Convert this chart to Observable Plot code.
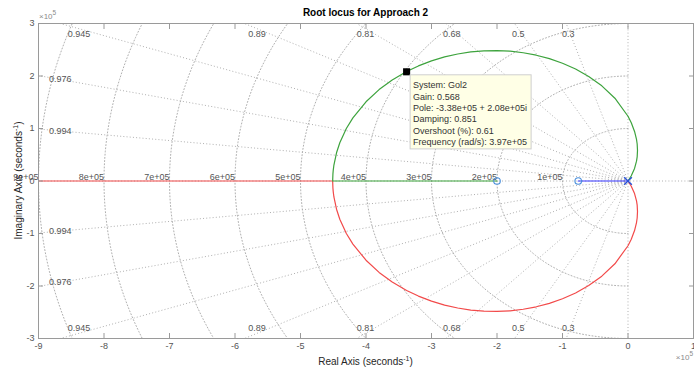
<!DOCTYPE html>
<html>
<head>
<meta charset="utf-8">
<script src="https://cdn.jsdelivr.net/npm/d3@7"></script>
<script src="https://cdn.jsdelivr.net/npm/@observablehq/plot@0.6"></script>
<style>
  html, body { margin: 0; padding: 0; background: #fff; }
  #chart svg { display: block; }
</style>
</head>
<body>
<div id="chart"></div>
<script>
// Axis ticks (seconds^-1)
const xTicks = [-9e5, -8e5, -7e5, -6e5, -5e5, -4e5, -3e5, -2e5, -1e5, 0, 1e5];
const yTicks = [-3e5, -2e5, -1e5, 0, 1e5, 2e5, 3e5];

// Open-loop poles (triple pole at the origin) and zeros
const poles = [[0, 0]];
const zeros = [[-2e5, 0], [-0.76e5, 0]];

// s-plane grid: damping ratios and natural frequencies
const dampingLevels = [0.3, 0.5, 0.68, 0.81, 0.89, 0.945, 0.976, 0.994];
const naturalFreqs = [1e5, 2e5, 3e5, 4e5, 5e5, 6e5, 7e5, 8e5, 9e5];

// Locus branches as [real, imaginary]
const branchBlue = [[0, 0], [-0.76e5, 0]];

const branchGreen = [
  [0, 0], [0.05e5, 0.099e5], [0.1e5, 0.24e5], [0.13e5, 0.378e5], [0.14e5, 0.46e5],
  [0.145e5, 0.581e5], [0.14e5, 0.705e5], [0.13e5, 0.791e5], [0.1e5, 0.944e5],
  [0.05e5, 1.109e5], [0, 1.233e5], [-0.2e5, 1.577e5], [-0.4e5, 1.813e5],
  [-0.6e5, 1.991e5], [-0.8e5, 2.132e5], [-1.0e5, 2.243e5], [-1.2e5, 2.33e5],
  [-1.4e5, 2.396e5], [-1.6e5, 2.443e5], [-1.8e5, 2.472e5], [-2.0e5, 2.484e5],
  [-2.2e5, 2.479e5], [-2.4e5, 2.458e5], [-2.6e5, 2.419e5], [-2.8e5, 2.363e5],
  [-3.0e5, 2.288e5], [-3.2e5, 2.192e5], [-3.38e5, 2.086e5], [-3.6e5, 1.924e5],
  [-3.8e5, 1.741e5], [-4.0e5, 1.509e5], [-4.2e5, 1.202e5], [-4.3e5, 0.999e5],
  [-4.4e5, 0.728e5], [-4.45e5, 0.538e5], [-4.49e5, 0.304e5], [-4.5e5, 0.207e5],
  [-4.505e5, 0.135e5], [-4.509e5, 0], [-2e5, 0]
];

const branchRed = [
  [0, 0], [0.05e5, -0.099e5], [0.1e5, -0.24e5], [0.13e5, -0.378e5], [0.14e5, -0.46e5],
  [0.145e5, -0.581e5], [0.14e5, -0.705e5], [0.13e5, -0.791e5], [0.1e5, -0.944e5],
  [0.05e5, -1.109e5], [0, -1.233e5], [-0.2e5, -1.577e5], [-0.4e5, -1.813e5],
  [-0.6e5, -1.991e5], [-0.8e5, -2.132e5], [-1.0e5, -2.243e5], [-1.2e5, -2.33e5],
  [-1.4e5, -2.396e5], [-1.6e5, -2.443e5], [-1.8e5, -2.472e5], [-2.0e5, -2.484e5],
  [-2.2e5, -2.479e5], [-2.4e5, -2.458e5], [-2.6e5, -2.419e5], [-2.8e5, -2.363e5],
  [-3.0e5, -2.288e5], [-3.2e5, -2.192e5], [-3.38e5, -2.086e5], [-3.6e5, -1.924e5],
  [-3.8e5, -1.741e5], [-4.0e5, -1.509e5], [-4.2e5, -1.202e5], [-4.3e5, -0.999e5],
  [-4.4e5, -0.728e5], [-4.45e5, -0.538e5], [-4.49e5, -0.304e5], [-4.5e5, -0.207e5],
  [-4.505e5, -0.135e5], [-4.509e5, 0], [-9e5, 0]
];

// Selected closed-loop pole (data tip)
const dataTip = {
  system: "Gol2", gain: 0.568, re: -3.38e5, im: 2.08e5,
  damping: 0.851, overshoot: 0.61, frequency: 3.97e5
};

// MATLAB-style exponent text, e.g. 8e+05
function expText(v, digits) {
  const s = digits == null ? v.toExponential() : v.toExponential(digits);
  const [m, e] = s.split("e");
  return m + "e" + e[0] + e.slice(1).padStart(2, "0");
}

const gridStyle = { stroke: "#b0b0b0", strokeWidth: 1, strokeDasharray: "1,2.2", clip: true };
const axisGray = "#9a9a9a";
const labelGray = "#555";

// Damping rays from the origin
const rayLength = 20e5;
const rays = dampingLevels.flatMap(z => [1, -1].map(sign => ({
  x2: -rayLength * z, y2: sign * rayLength * Math.sqrt(1 - z * z)
})));

// Natural-frequency arcs over the left half plane
const arcs = naturalFreqs.flatMap(wn => d3.range(90, 270.5, 1).map(a => ({
  wn, re: wn * Math.cos(a * Math.PI / 180), im: wn * Math.sin(a * Math.PI / 180)
})));

// Damping labels sit where each ray leaves the axes
const xMin = xTicks[0], yMax = yTicks[yTicks.length - 1];
const dampingLabels = dampingLevels.flatMap(z => {
  const slope = Math.sqrt(1 - z * z) / z;
  return [1, -1].map(sign => {
    if (-xMin * slope > yMax) {
      return { z, re: -0.967 * yMax / slope, im: sign * 0.932 * yMax };
    }
    const re = 0.963 * xMin;
    return { z, re, im: sign * -re * slope };
  });
});

const asPoint = ([re, im]) => ({ re, im });
const lineOpts = (color) => ({ x: "re", y: "im", stroke: color, strokeWidth: 1.2, clip: true });

const chart = Plot.plot({
  width: 694,
  height: 368,
  marginTop: 23,
  marginRight: 1,
  marginBottom: 30,
  marginLeft: 38,
  style: {
    fontFamily: '"Liberation Sans", Arial, Helvetica, sans-serif',
    fontSize: "9px",
    background: "#fff",
    color: labelGray
  },
  x: { domain: [xTicks[0], xTicks[xTicks.length - 1]], label: null },
  y: { domain: [yTicks[0], yTicks[yTicks.length - 1]], label: null },
  marks: [
    // grid
    Plot.line(arcs, { x: "re", y: "im", z: "wn", ...gridStyle }),
    Plot.link(rays, { x1: 0, y1: 0, x2: "x2", y2: "y2", ...gridStyle }),
    Plot.ruleX([0], gridStyle),
    Plot.ruleY([0], gridStyle),
    Plot.text(naturalFreqs, {
      x: d => -d, y: 0, text: d => expText(d), textAnchor: "end",
      lineAnchor: "bottom", dy: -1, fill: labelGray
    }),
    Plot.text(dampingLabels, { x: "re", y: "im", text: d => String(d.z), fill: labelGray }),

    // locus branches
    Plot.line(branchRed.map(asPoint), lineOpts("#f24a4a")),
    Plot.line(branchGreen.map(asPoint), lineOpts("#3da33d")),
    Plot.line(branchBlue.map(asPoint), lineOpts("#3535ff")),

    // zeros and poles
    Plot.dot(zeros.map(asPoint), { x: "re", y: "im", r: 3.3, stroke: "#4a8fdc", strokeWidth: 1.1, fill: "none" }),
    Plot.dot(poles.map(asPoint), { x: "re", y: "im", r: 3.6, symbol: "times", stroke: "#2a52d8", strokeWidth: 1.4 }),

    // data tip marker
    Plot.dot([dataTip], { x: "re", y: "im", symbol: "square", r: 4, fill: "#000" }),

    // axes box with inward ticks
    Plot.frame({ stroke: axisGray }),
    Plot.axisX(xTicks, { anchor: "bottom", tickSize: -5, fill: "none", stroke: axisGray, label: null }),
    Plot.axisX(xTicks, { anchor: "top", tickSize: -5, fill: "none", stroke: axisGray, label: null }),
    Plot.axisY(yTicks, { anchor: "left", tickSize: -5, fill: "none", stroke: axisGray, label: null }),
    Plot.axisY(yTicks, { anchor: "right", tickSize: -5, fill: "none", stroke: axisGray, label: null }),
    Plot.axisX(xTicks, { anchor: "bottom", tickSize: 0, tickPadding: 4, tickFormat: d => d / 1e5, label: null, fill: labelGray }),
    Plot.axisY(yTicks, { anchor: "left", tickSize: 0, tickPadding: 4, tickFormat: d => d / 1e5, label: null, fill: labelGray })
  ]
});

document.getElementById("chart").appendChild(chart);

const svg = d3.select(chart);
const font = '"Liberation Sans", Arial, Helvetica, sans-serif';
const sx = chart.scale("x"), sy = chart.scale("y");
const [frameLeft, frameRight] = sx.range;
const [frameBottom, frameTop] = sy.range;

// title
svg.append("text")
  .attr("x", (frameLeft + frameRight) / 2).attr("y", 16)
  .attr("text-anchor", "middle")
  .attr("font-family", font).attr("font-size", 10).attr("font-weight", "bold")
  .attr("fill", "#000")
  .text("Root locus for Approach 2");

// axis titles with superscripts
function axisTitle(sel, name) {
  sel.attr("font-family", font).attr("font-size", 10).attr("fill", "#262626")
    .attr("text-anchor", "middle");
  sel.append("tspan").text(name + " (seconds");
  sel.append("tspan").attr("font-size", 7).attr("dy", -4).text("-1");
  sel.append("tspan").attr("dy", 4).text(")");
}
svg.append("text")
  .attr("x", (frameLeft + frameRight) / 2).attr("y", 365)
  .call(axisTitle, "Real Axis");
svg.append("text")
  .attr("transform", `translate(22,${(frameTop + frameBottom) / 2}) rotate(-90)`)
  .call(axisTitle, "Imaginary Axis");

// exponent multipliers
function multiplier(sel, anchor) {
  sel.attr("font-family", font).attr("font-size", 8).attr("fill", "#8a8a8a")
    .attr("text-anchor", anchor);
  sel.append("tspan").text("\u00d710");
  sel.append("tspan").attr("font-size", 6.5).attr("dy", -4).text("5");
}
svg.append("text").attr("x", frameLeft + 1).attr("y", frameTop - 4).call(multiplier, "start");
svg.append("text").attr("x", frameRight).attr("y", 360).call(multiplier, "end");

// data tip box
const tipLines = [
  `System: ${dataTip.system}`,
  `Gain: ${dataTip.gain}`,
  `Pole: ${expText(dataTip.re, 2)} + ${expText(dataTip.im, 2)}i`,
  `Damping: ${dataTip.damping}`,
  `Overshoot (%): ${dataTip.overshoot}`,
  `Frequency (rad/s): ${expText(dataTip.frequency, 2)}`
];
const lineStep = 11.35;
const tipGroup = svg.append("g")
  .attr("transform", `translate(${sx.apply(dataTip.re) + 4},${sy.apply(dataTip.im) + 3.5})`);
const tipBox = tipGroup.append("rect")
  .attr("fill", "#ffffe6").attr("stroke", "#cfcfcf").attr("stroke-width", 1);
const tipText = tipGroup.append("text")
  .attr("font-family", font).attr("font-size", 9).attr("fill", "#333")
  .attr("text-anchor", "start");
tipLines.forEach((s, i) => {
  tipText.append("tspan").attr("x", 3).attr("y", 13.5 + i * lineStep).text(s);
});
const bb = tipText.node().getBBox();
tipBox.attr("x", 0).attr("y", 0)
  .attr("width", Math.round(bb.width + 7))
  .attr("height", tipLines.length * lineStep + 6);
</script>
</body>
</html>
